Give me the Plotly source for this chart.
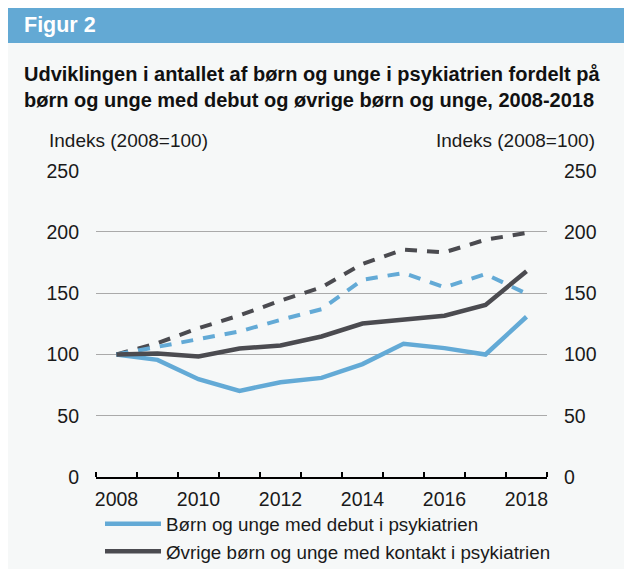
import plotly.graph_objects as go

# Data (index, 2008 = 100)
years = [2008, 2009, 2010, 2011, 2012, 2013, 2014, 2015, 2016, 2017, 2018]
debut = [100, 95.6, 79.8, 70.3, 77.4, 80.9, 92.2, 108.8, 105.2, 100, 130.8]
debut_dashed = [100, 106, 112.8, 118.8, 128.3, 137, 161, 166.5, 154.8, 165.7, 149.6]
oevrige = [100, 100.8, 98.4, 104.9, 107.4, 114.7, 125.3, 128.5, 131.6, 140.4, 168]
oevrige_dashed = [100, 109.3, 121.5, 131.9, 143.9, 154.8, 174, 185.6, 183.4, 193.7, 199.2]
year_ticks = [2008, 2010, 2012, 2014, 2016, 2018]
y_ticks = [0, 50, 100, 150, 200, 250]

BLUE = "rgb(99, 170, 214)"
DARK = "rgb(75, 75, 80)"
PANEL = "rgb(246, 248, 248)"
FONT = "Liberation Sans, Arial, sans-serif"

# page body has an 8px margin; figure is a bit taller than the window so the
# legend doesn't push the bottom margin
OFF = 8
W, H = 624, 601
L, R, T, B = 88, 85, 162, 132
PW, PH = W - L - R, H - T - B


def sx(px):
    # screen pixel -> paper x
    return (px - OFF - L) / PW


def sy(py):
    # screen pixel -> paper y
    return (H - B - (py - OFF)) / PH


fig = go.Figure()

fig.add_trace(go.Scatter(
    x=years, y=oevrige_dashed, mode="lines", showlegend=False,
    line=dict(color=DARK, width=4, dash="12px,10px"),
))
fig.add_trace(go.Scatter(
    x=years, y=debut_dashed, mode="lines", showlegend=False,
    line=dict(color=BLUE, width=4, dash="12px,10px"),
))
fig.add_trace(go.Scatter(
    x=years, y=debut, mode="lines", name="Børn og unge med debut i psykiatrien",
    line=dict(color=BLUE, width=4.5),
))
fig.add_trace(go.Scatter(
    x=years, y=oevrige, mode="lines", name="Øvrige børn og unge med kontakt i psykiatrien",
    line=dict(color=DARK, width=4.5), yaxis="y2",
))

axis_font = dict(family=FONT, size=19.5, color="#1a1a1a")

fig.update_layout(
    width=W,
    height=H,
    margin=dict(l=L, r=R, t=T, b=B, pad=0),
    paper_bgcolor=PANEL,
    plot_bgcolor=PANEL,
    font=dict(family=FONT, color="#1a1a1a"),
    xaxis=dict(
        range=[2007.5, 2018.5],
        tickvals=year_ticks,
        ticks="",
        tickfont=axis_font,
        showgrid=False,
        zeroline=False,
        showline=True,
        linecolor="black",
        linewidth=2,
        ticklabelstandoff=4,
        minor=dict(tick0=2007.5, dtick=1, ticks="inside", ticklen=5,
                   tickcolor="black", tickwidth=1.5, showgrid=False),
    ),
    yaxis=dict(
        range=[0, 250.6],
        tickvals=y_ticks,
        tickfont=axis_font,
        showgrid=True,
        gridcolor="rgb(170, 170, 170)",
        gridwidth=1,
        zeroline=False,
        ticks="",
        ticklabelstandoff=16,
    ),
    yaxis2=dict(
        range=[0, 250.6],
        tickvals=y_ticks,
        tickfont=axis_font,
        overlaying="y",
        side="right",
        anchor="x",
        showgrid=False,
        zeroline=False,
        ticks="",
        ticklabelstandoff=16,
    ),
    legend=dict(
        x=sx(100), y=sy(505), xanchor="left", yanchor="top",
        font=dict(family=FONT, size=18.8, color="#1a1a1a"),
        bgcolor="rgba(0,0,0,0)",
        tracegroupgap=0,
        itemwidth=56,
    ),
    shapes=[
        dict(type="rect", xref="paper", yref="paper", layer="below",
             x0=sx(OFF), x1=sx(640), y0=sy(43), y1=sy(OFF),
             fillcolor="rgb(99, 169, 212)", line_width=0),
    ],
    annotations=[
        dict(text="<b>Figur 2</b>", xref="paper", yref="paper",
             x=sx(22), y=sy(25), xanchor="left", yanchor="middle", showarrow=False,
             font=dict(family=FONT, size=21.5, color="white")),
        dict(text="<b>Udviklingen i antallet af børn og unge i psykiatrien fordelt på"
                  "<br>børn og unge med debut og øvrige børn og unge, 2008-2018</b>",
             xref="paper", yref="paper", x=sx(22), y=sy(87), xanchor="left", yanchor="middle",
             align="left", showarrow=False,
             font=dict(family=FONT, size=20, color="#111111")),
        dict(text="Indeks (2008=100)", xref="paper", yref="paper",
             x=sx(47), y=sy(140), xanchor="left", yanchor="middle", showarrow=False,
             font=dict(family=FONT, size=19, color="#1a1a1a")),
        dict(text="Indeks (2008=100)", xref="paper", yref="paper",
             x=sx(597), y=sy(140), xanchor="right", yanchor="middle", showarrow=False,
             font=dict(family=FONT, size=19, color="#1a1a1a")),
    ],
)

fig.write_html("out.html")
